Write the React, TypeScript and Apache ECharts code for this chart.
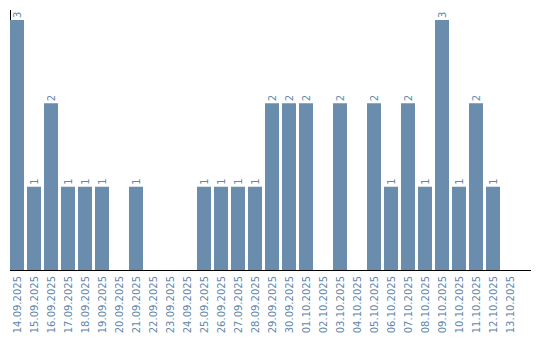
import React, { useEffect, useRef } from "react";
import * as echarts from "echarts";

const categories = [
  "14.09.2025", "15.09.2025", "16.09.2025", "17.09.2025", "18.09.2025",
  "19.09.2025", "20.09.2025", "21.09.2025", "22.09.2025", "23.09.2025",
  "24.09.2025", "25.09.2025", "26.09.2025", "27.09.2025", "28.09.2025",
  "29.09.2025", "30.09.2025", "01.10.2025", "02.10.2025", "03.10.2025",
  "04.10.2025", "05.10.2025", "06.10.2025", "07.10.2025", "08.10.2025",
  "09.10.2025", "10.10.2025", "11.10.2025", "12.10.2025", "13.10.2025",
];
const counts = [
  3, 1, 2, 1, 1, 1, 0, 1, 0, 0,
  0, 1, 1, 1, 1, 2, 2, 2, 0, 2,
  0, 2, 1, 2, 1, 3, 1, 2, 1, 0,
];

const BLUE = "#6a8cad";
const TEXT = "#6287ad";

export default function App() {
  const ref = useRef<HTMLDivElement>(null);
  useEffect(() => {
    if (!ref.current) return;
    const chart = echarts.init(ref.current, null, { renderer: "svg" });
    chart.setOption({
      animation: false,
      grid: { left: 8.5, top: 20, width: 510, bottom: 70, containLabel: false },
      xAxis: {
        type: "category",
        data: categories,
        axisLine: { show: false },
        axisTick: { show: false },
        axisLabel: {
          interval: 0,
          rotate: 90,
          margin: 6,
          color: TEXT,
          fontFamily: "DejaVu Sans",
          fontSize: 10,
        },
      },
      yAxis: {
        type: "value",
        min: 0,
        max: 3,
        axisLine: { show: false },
        axisTick: { show: false },
        axisLabel: { show: false },
        splitLine: { show: false },
      },
      series: [
        {
          type: "bar",
          data: counts,
          barWidth: 14,
          z: 5,
          itemStyle: { color: BLUE },
          label: {
            show: true,
            position: "top",
            rotate: 90,
            align: "left",
            verticalAlign: "middle",
            distance: 2,
            color: TEXT,
            fontFamily: "DejaVu Sans",
            fontSize: 10,
            formatter: (p: any) => (p.value ? String(p.value) : ""),
          },
        },
      ],
      graphic: [
        {
          type: "line",
          shape: { x1: 10.5, y1: 10, x2: 10.5, y2: 270 },
          style: { stroke: "#000", lineWidth: 1 },
          z: 0,
        },
        {
          type: "line",
          shape: { x1: 10, y1: 270.5, x2: 531, y2: 270.5 },
          style: { stroke: "#000", lineWidth: 1 },
          z: 100,
        },
      ],
    });
    return () => chart.dispose();
  }, []);
  return <div ref={ref} style={{ width: 540, height: 340, position: "absolute", left: 0, top: 0 }} />;
}
